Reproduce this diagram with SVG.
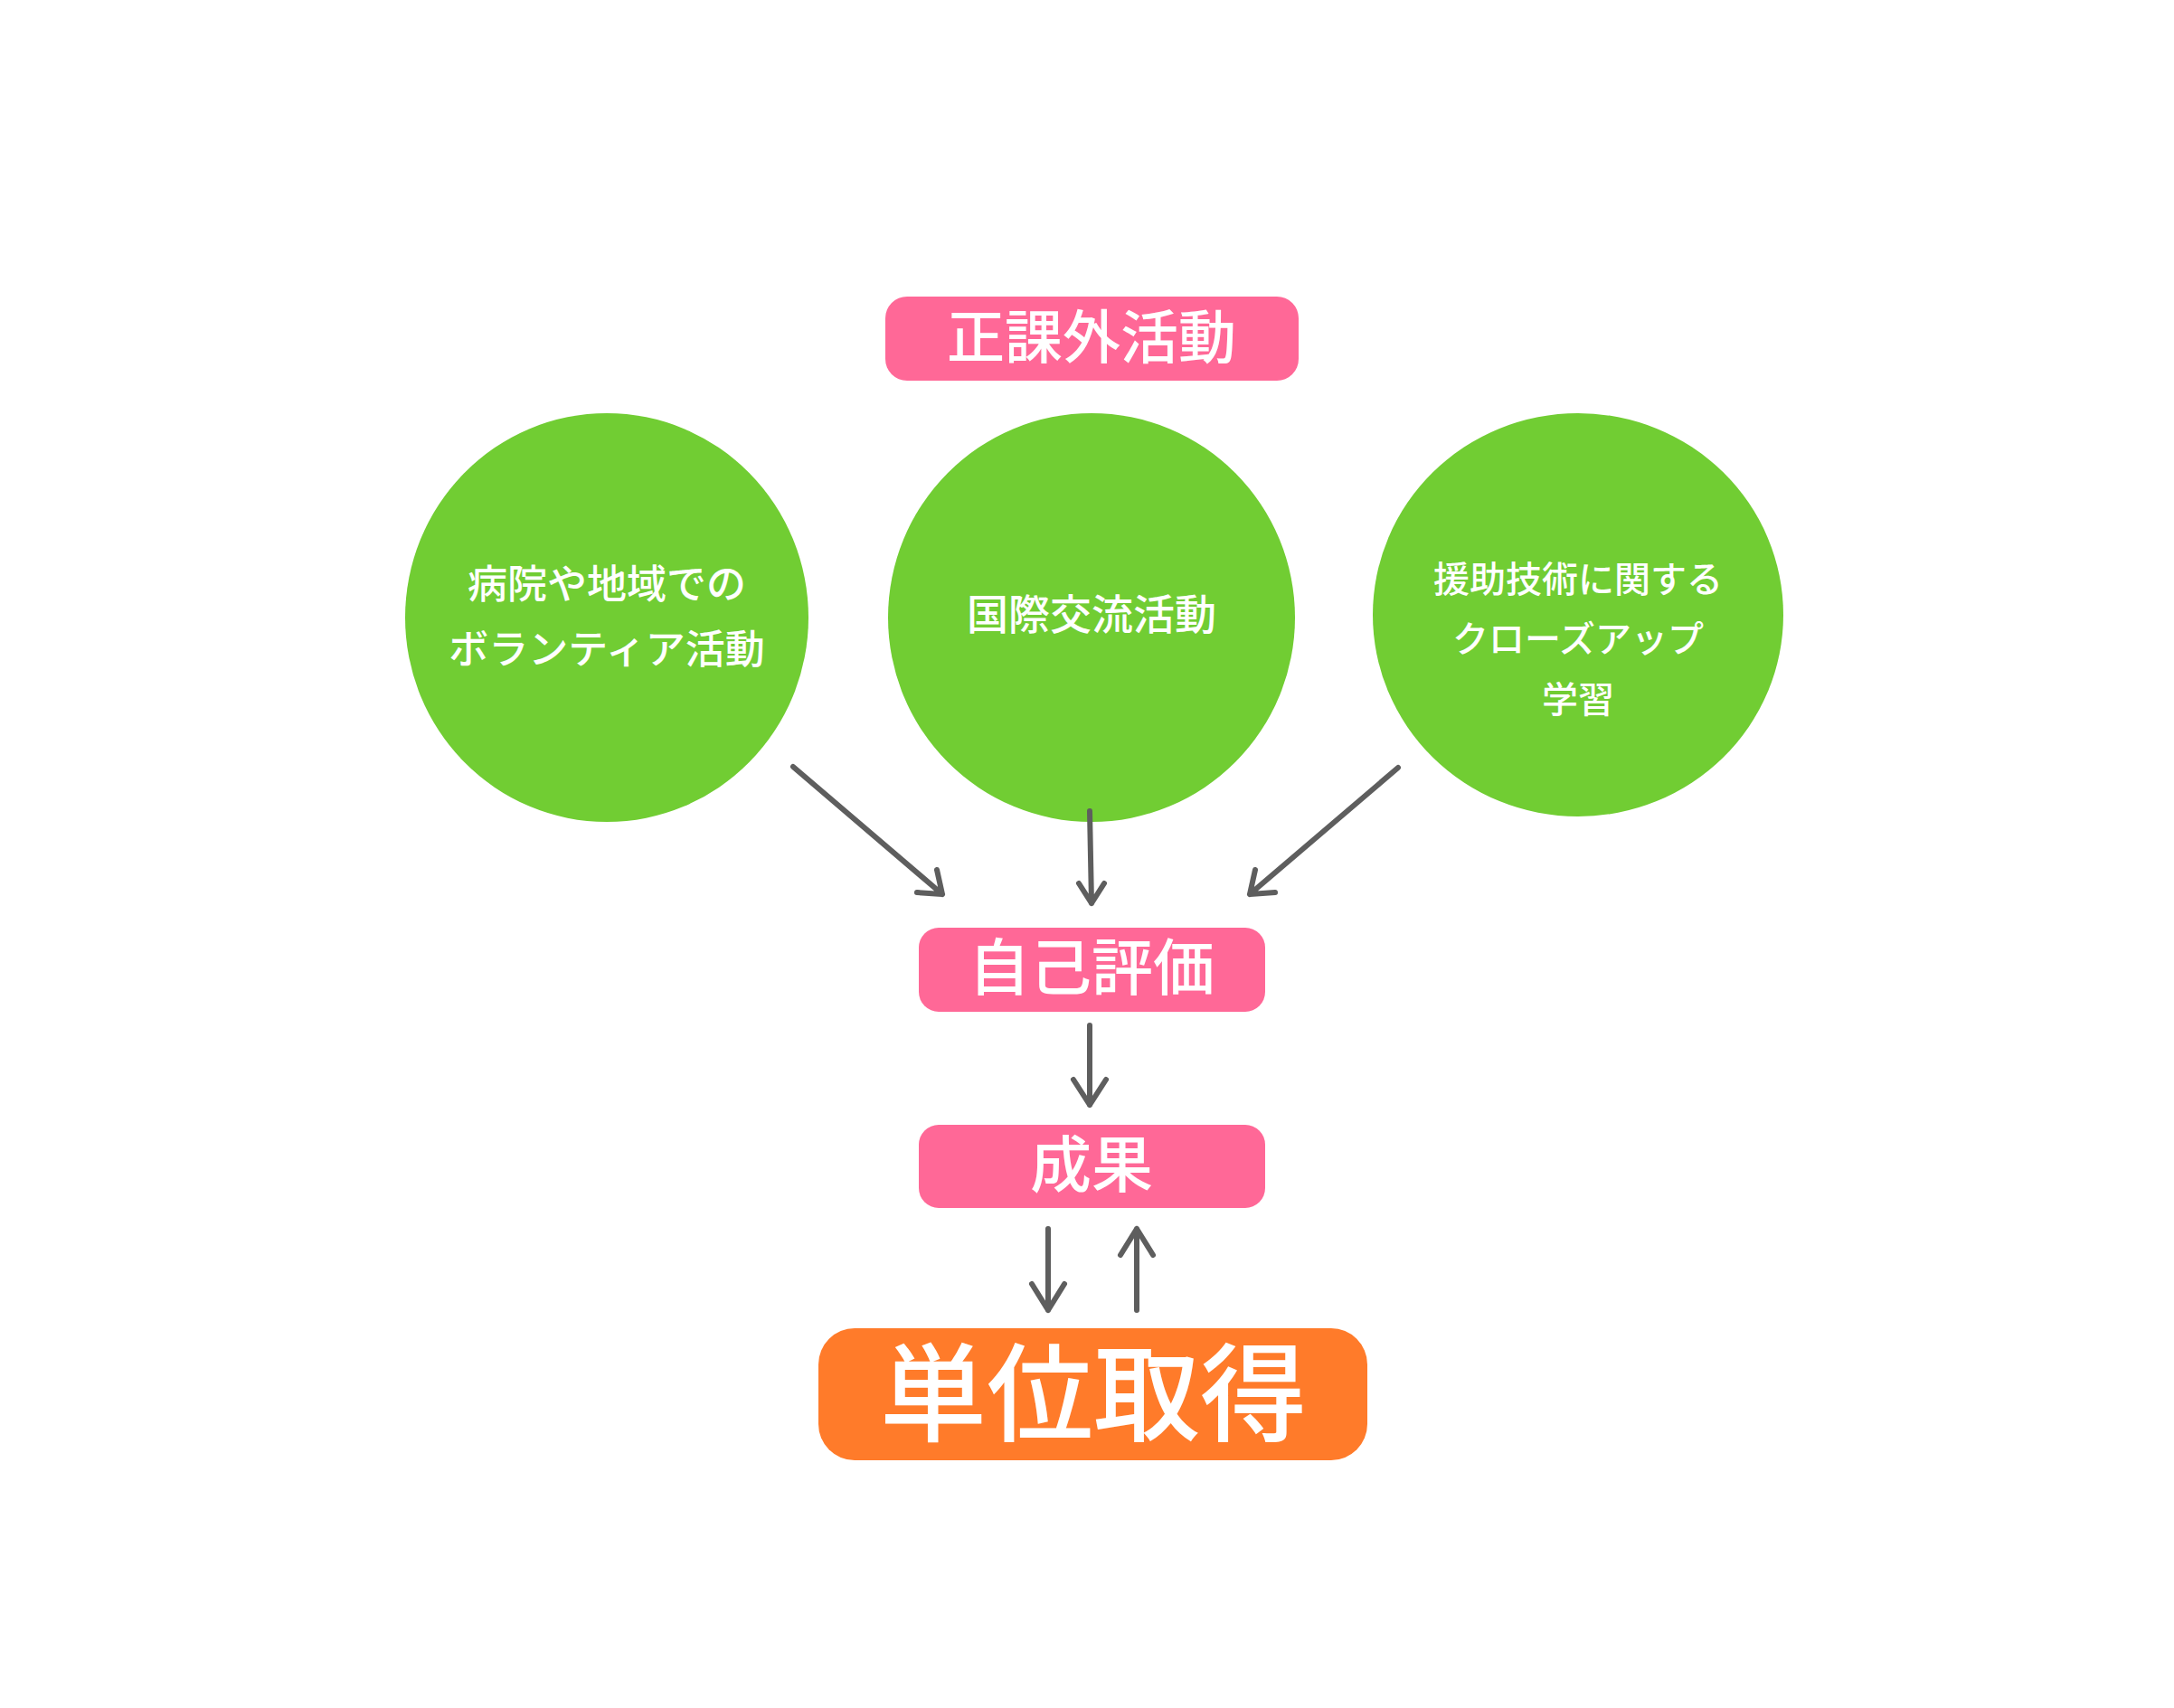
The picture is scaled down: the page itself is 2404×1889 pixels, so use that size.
<svg xmlns="http://www.w3.org/2000/svg" width="2404" height="1889" viewBox="0 0 2404 1889">
<style>
.pink{fill:#FF6897}
.green{fill:#71CD33}
.t{fill:#fff;font-family:"Noto Sans CJK JP",sans-serif;text-anchor:middle;font-weight:500}
.a{stroke:#5e5e5e;stroke-width:6;fill:none;stroke-linecap:round;stroke-linejoin:round}
</style>
<defs><marker id="ah" viewBox="0 0 20 20" refX="18" refY="10" markerWidth="8" markerHeight="8" markerUnits="userSpaceOnUse" orient="auto" style="overflow:visible"><path d="M-10,-12 L18,10 L-10,32" transform="scale(0.9)" fill="none" stroke="#5e5e5e" stroke-width="6" stroke-linecap="round" stroke-linejoin="round"/></marker></defs>
<rect width="2404" height="1889" fill="#fff"/>
<g id="title"><rect class="pink" x="979" y="328" width="457" height="93" rx="24"/><text class="t" x="1207" y="396" font-size="64">正課外活動</text></g>
<g id="c1"><ellipse class="green" cx="671" cy="683" rx="223" ry="226"/><text class="t" x="671" y="662" font-size="44">病院や地域での</text><text class="t" x="671" y="734" font-size="44">ボランティア活動</text></g>
<g id="c2"><ellipse class="green" cx="1207" cy="683" rx="225" ry="226"/><text class="t" x="1207" y="696" font-size="46">国際交流活動</text></g>
<g id="c3"><ellipse class="green" cx="1745" cy="680" rx="227" ry="223"/><text class="t" x="1745" y="655" font-size="40">援助技術に関する</text><text class="t" x="1745" y="721" font-size="40">クローズアップ</text><text class="t" x="1745" y="788" font-size="40">学習</text></g>
<g id="self"><rect class="pink" x="1016" y="1026" width="383" height="93" rx="22"/><text class="t" x="1207" y="1095" font-size="68">自己評価</text></g>
<g id="result"><rect class="pink" x="1016" y="1244" width="383" height="92" rx="22"/><text class="t" x="1207" y="1313" font-size="68">成果</text></g>
<g id="credit"><rect fill="#FF7B2A" x="905" y="1469" width="607" height="146" rx="40"/><text class="t" x="1209" y="1585" font-size="118">単位取得</text></g>
<g id="connectors">
<path class="a" d="M877,848 L1042,989 M1042,989 L1014,987 M1042,989 L1036,962"/>
<path class="a" d="M1205,897 L1207,999 M1207,999 L1193,977 M1207,999 L1221,977"/>
<path class="a" d="M1546,849 L1382,989 M1382,989 L1410,987 M1382,989 L1388,962"/>
<path class="a" d="M1205,1134 L1205,1222 M1205,1222 L1187,1194 M1205,1222 L1223,1194"/>
<path class="a" d="M1159,1359 L1159,1449 M1159,1449 L1141,1420 M1159,1449 L1177,1420"/>
<path class="a" d="M1257,1449 L1257,1359 M1257,1359 L1239,1388 M1257,1359 L1275,1388"/>
</g>
</svg>
